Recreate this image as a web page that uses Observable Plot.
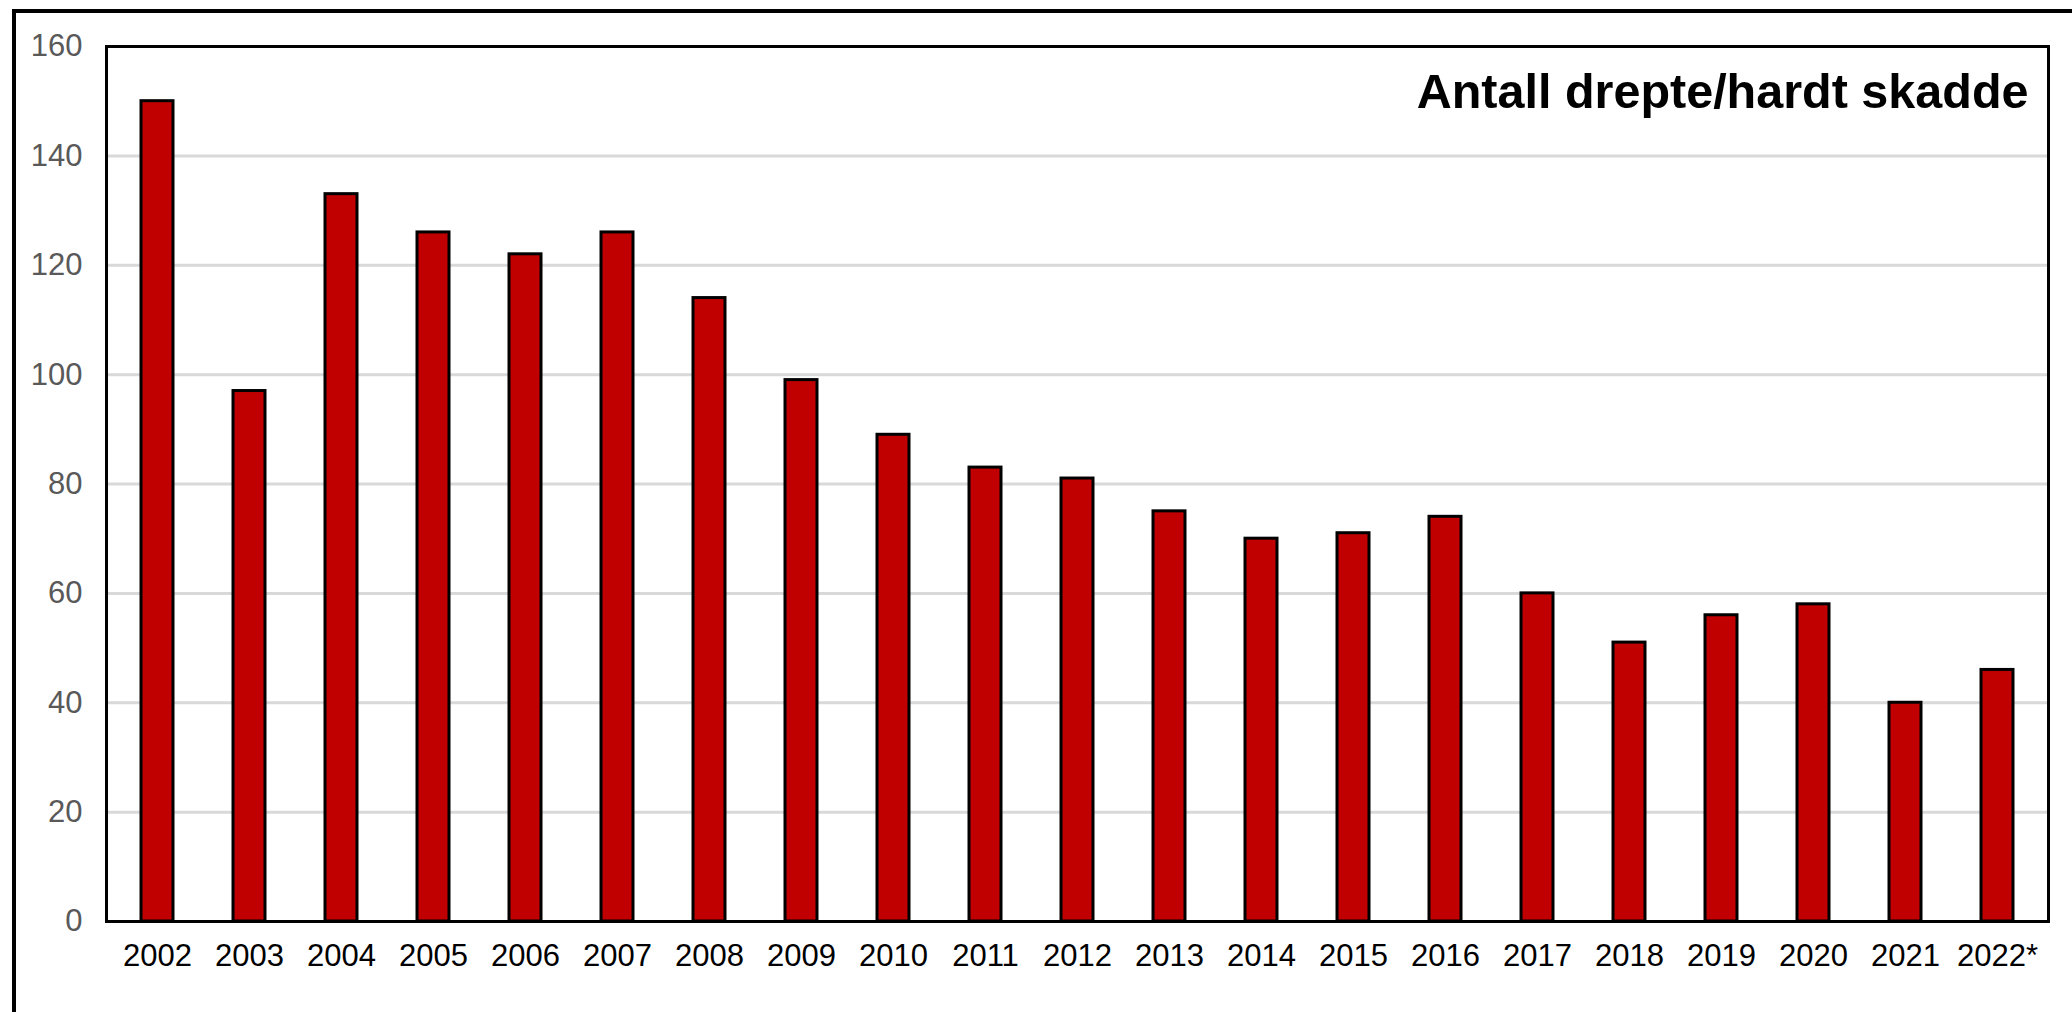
<!DOCTYPE html>
<html>
<head>
<meta charset="utf-8">
<script src="https://cdn.jsdelivr.net/npm/d3@7"></script>
<script src="https://cdn.jsdelivr.net/npm/@observablehq/plot@0.6"></script>
<style>
  html, body { margin: 0; padding: 0; background: #fff; }
  #wrap { position: relative; width: 2072px; height: 1012px; overflow: hidden; font-family: "Liberation Sans", Arial, sans-serif; }
  #outer { position: absolute; left: 12px; top: 9px; width: 2200px; height: 1100px; border-left: 4px solid #000; border-top: 4px solid #000; box-sizing: border-box; pointer-events: none; }
  #chart { position: absolute; left: 0; top: 0; }
</style>
</head>
<body>
<div id="wrap">
  <div id="chart"></div>
  <div id="outer"></div>
</div>
<script>
const years = ["2002","2003","2004","2005","2006","2007","2008","2009","2010","2011","2012","2013","2014","2015","2016","2017","2018","2019","2020","2021","2022*"];
const values = [150, 97, 133, 126, 122, 126, 114, 99, 89, 83, 81, 75, 70, 71, 74, 60, 51, 56, 58, 40, 46];
const yTicks = [0, 20, 40, 60, 80, 100, 120, 140, 160];
const gridTicks = [20, 40, 60, 80, 100, 120, 140];
const title = "Antall drepte/hardt skadde";

const data = years.map((y, i) => ({year: y, value: values[i]}));

const chart = Plot.plot({
  width: 2072,
  height: 1012,
  marginLeft: 106,
  marginRight: 24,
  marginTop: 46,
  marginBottom: 91,
  style: {fontFamily: '"Liberation Sans", Arial, sans-serif', background: "transparent"},
  x: {domain: years, paddingInner: 0.65, paddingOuter: 0.325, label: null},
  y: {domain: [0, 160], label: null},
  marks: [
    Plot.gridY(gridTicks, {stroke: "#d9d9d9", strokeWidth: 3, strokeOpacity: 1}),
    Plot.barY(data, {x: "year", y: "value", fill: "#c00000", stroke: "#000", strokeWidth: 3}),
    Plot.frame({stroke: "#000", strokeWidth: 3}),
    Plot.axisY({ticks: yTicks, tickSize: 0, tickPadding: 24, fontSize: 31, fill: "#595959", label: null}),
    Plot.axisX({tickSize: 0, tickPadding: 22, fontSize: 31, fill: "#000", label: null}),
    Plot.text([title], {frameAnchor: "top-right", dx: -20, dy: 46, lineAnchor: "middle", fontSize: 48.5, fontWeight: "bold", fill: "#000"})
  ]
});
document.getElementById("chart").appendChild(chart);
</script>
</body>
</html>
